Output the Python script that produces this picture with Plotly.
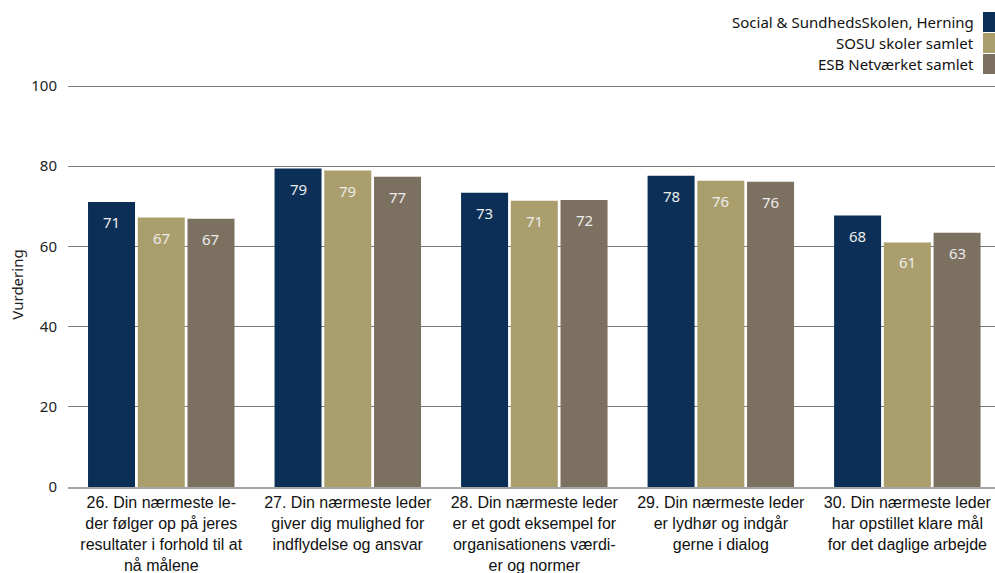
import plotly.graph_objects as go

categories = [
    "26. Din nærmeste le-<br>der følger op på jeres<br>resultater i forhold til at<br>nå målene",
    "27. Din nærmeste leder<br>giver dig mulighed for<br>indflydelse og ansvar",
    "28. Din nærmeste leder<br>er et godt eksempel for<br>organisationens værdi-<br>er og normer",
    "29. Din nærmeste leder<br>er lydhør og indgår<br>gerne i dialog",
    "30. Din nærmeste leder<br>har opstillet klare mål<br>for det daglige arbejde",
]
series_names = ["Social & SundhedsSkolen, Herning", "SOSU skoler samlet", "ESB Netværket samlet"]
herning = [71.1, 79.4, 73.4, 77.6, 67.7]
sosu = [67.2, 78.9, 71.4, 76.4, 61.0]
esb = [66.9, 77.4, 71.6, 76.1, 63.4]
colors = ["#0b2f56", "#aa9e6d", "#7c7161"]
y_ticks = [0, 20, 40, 60, 80, 100]

W, H = 995, 573
ML, MR, MT, MB = 68, 0, 82, 86
X_RANGE = [-0.5, 4.47]
Y_RANGE = [0, 101]
BARGAP = 0.2
BARGROUPGAP = 0.055

fig = go.Figure()
all_series = [herning, sosu, esb]
for name, vals, col in zip(series_names, all_series, colors):
    fig.add_trace(go.Bar(
        x=categories, y=vals, name=name, marker_color=col, marker_line_width=0,
        showlegend=False,
    ))

# value labels inside the bars, a little below the bar top
plot_w = W - ML - MR
plot_h = H - MT - MB
cat_px = plot_w / (X_RANGE[1] - X_RANGE[0])
slot_px = cat_px * (1 - BARGAP) / len(all_series)
for i, vals in enumerate(all_series):
    shift = (i - (len(all_series) - 1) / 2) * slot_px
    for cat, v in zip(categories, vals):
        fig.add_annotation(
            x=cat, y=v, xref="x", yref="y", text=f"{v:.0f}", showarrow=False,
            xanchor="center", yanchor="middle", xshift=shift, yshift=-20,
            font=dict(family="Noto Sans, Open Sans", size=15, color="#ececec"),
        )

fig.update_layout(
    width=W, height=H,
    margin=dict(l=ML, r=MR, t=MT, b=MB, autoexpand=False),
    plot_bgcolor="white", paper_bgcolor="white",
    barmode="group", bargap=BARGAP, bargroupgap=BARGROUPGAP,
    font=dict(family="Noto Sans, Open Sans", color="#222222"),
)
fig.update_xaxes(
    range=X_RANGE, showgrid=False, showline=True, linecolor="#a6a6a6", linewidth=2,
    tickfont=dict(family="Liberation Sans, Arial", size=16, color="#111111"),
    ticks="", tickangle=0, automargin=False,
)
fig.update_yaxes(
    range=Y_RANGE, tickvals=y_ticks, showgrid=True, gridcolor="#7a7a7a", gridwidth=1,
    zeroline=False, showline=False, automargin=False,
    tickfont=dict(family="Noto Sans, Open Sans", size=15, color="#222222"),
    title=dict(text="Vurdering", font=dict(family="Noto Sans, Open Sans", size=15, color="#222222"), standoff=4),
    ticklabelstandoff=10,
)

# custom legend (symbols on the right, text right aligned)
def px_x(p):
    return (p - ML) / plot_w
def px_y(p):
    return 1 + (MT - p) / plot_h

leg_centers = [22, 43, 64]
for name, col, cy in zip(series_names, colors, leg_centers):
    fig.add_annotation(
        xref="paper", yref="paper", x=px_x(976), y=px_y(cy), text=name,
        showarrow=False, xanchor="right", yanchor="middle",
        font=dict(family="Noto Sans, Open Sans", size=15, color="#111111"),
    )
    fig.add_shape(
        type="rect", xref="paper", yref="paper",
        x0=px_x(983), x1=px_x(995), y0=px_y(cy - 10), y1=px_y(cy + 10),
        fillcolor=col, line_width=0, layer="above",
    )

fig.write_html(
    "out.html",
    config={"displayModeBar": False},
    post_script="document.body.style.margin='0';document.body.style.overflow='hidden';",
)
